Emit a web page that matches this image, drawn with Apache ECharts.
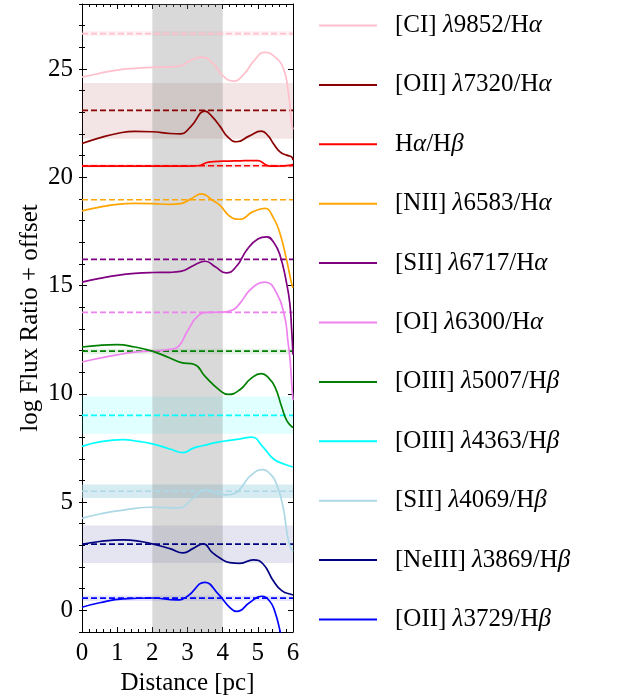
<!DOCTYPE html>
<html>
<head>
<meta charset="utf-8">
<script src="https://cdn.jsdelivr.net/npm/echarts@6/dist/echarts.min.js"></script>
<style>html,body{margin:0;padding:0;background:#fff;}#c{width:618px;height:698px;}</style>
</head>
<body>
<div id="c"></div>
<script>
// ---------- data ----------
const lineNames = [
  "[CI] λ9852/Hα", "[OII] λ7320/Hα", "Hα/Hβ", "[NII] λ6583/Hα", "[SII] λ6717/Hα",
  "[OI] λ6300/Hα", "[OIII] λ5007/Hβ", "[OIII] λ4363/Hβ", "[SII] λ4069/Hβ",
  "[NeIII] λ3869/Hβ", "[OII] λ3729/Hβ"
];
const ciCurve = [[0,24.62],[0.5,24.8],[1,24.95],[1.5,25.03],[2,25.07],[2.5,25.1],[2.8,25.15],[3.1,25.4],[3.4,25.55],[3.7,25.3],[4.0,24.7],[4.3,24.44],[4.6,24.75],[4.9,25.4],[5.2,25.77],[5.45,25.6],[5.72,25.05],[5.87,23.9],[5.96,22.5],[6,22.2]];
const oii7320Curve = [[0,21.56],[0.5,21.82],[1,22.02],[1.5,22.12],[2,22.1],[2.5,22.02],[2.8,22.0],[3.1,22.35],[3.5,23.05],[3.7,22.8],[3.92,22.36],[4.15,21.85],[4.4,21.64],[4.75,21.9],[5.1,22.13],[5.3,21.9],[5.44,21.56],[5.63,21.17],[5.82,21.02],[5.96,20.94],[6,20.79]];
const haHbCurve = [[0,20.51],[1,20.51],[2,20.51],[3,20.51],[3.3,20.53],[3.6,20.7],[4,20.74],[4.5,20.76],[5,20.77],[5.2,20.6],[5.35,20.51],[5.7,20.52],[5.95,20.56],[6,20.6]];
const nii6583Curve = [[0,18.45],[0.5,18.62],[1,18.75],[1.5,18.79],[2,18.78],[2.5,18.75],[2.8,18.78],[3.1,19.0],[3.4,19.23],[3.7,18.95],[3.92,18.71],[4.2,18.2],[4.49,18.06],[4.85,18.4],[5.2,18.56],[5.45,18.1],[5.63,17.4],[5.82,16.17],[5.96,15.09],[6,14.9]];
const sii6717Curve = [[0,15.16],[0.5,15.33],[1,15.47],[1.5,15.56],[2,15.6],[2.5,15.61],[2.8,15.65],[3.2,15.95],[3.5,16.12],[3.8,15.85],[4.1,15.58],[4.4,15.9],[4.68,16.63],[5.0,17.15],[5.25,17.25],[5.45,17.0],[5.63,16.4],[5.82,15.09],[5.91,14.17],[5.96,13.0],[6,11.8]];
const oi6300Curve = [[0,11.47],[0.5,11.65],[1,11.8],[1.5,11.92],[2,11.98],[2.5,12.05],[2.75,12.2],[3.0,12.9],[3.3,13.6],[3.6,13.76],[4,13.77],[4.3,13.88],[4.5,14.2],[4.75,14.75],[5.0,15.08],[5.2,15.16],[5.54,14.63],[5.77,13.5],[5.85,12.5],[5.92,11.5],[5.97,10.3],[6,9.7]];
const oiii5007Curve = [[0,12.16],[0.5,12.24],[1,12.27],[1.5,12.16],[2,11.97],[2.5,11.65],[2.8,11.45],[3.2,11.35],[3.5,10.8],[3.92,10.16],[4.16,9.97],[4.5,10.2],[4.8,10.7],[5.1,10.93],[5.3,10.75],[5.49,10.31],[5.68,9.39],[5.82,8.77],[5.96,8.49],[6,8.45]];
const oiii4363Curve = [[0,7.57],[0.5,7.78],[1.17,7.88],[1.6,7.8],[2,7.69],[2.5,7.45],[2.88,7.28],[3.15,7.48],[3.45,7.61],[3.87,7.77],[4.2,7.85],[4.5,7.92],[4.82,8.0],[5.15,7.54],[5.44,7.0],[5.72,6.77],[6,6.62]];
const sii4069Curve = [[0,4.25],[0.5,4.45],[1.17,4.63],[2,4.76],[2.78,4.73],[3.1,5.1],[3.54,5.58],[3.87,5.38],[4.1,5.33],[4.35,5.41],[4.5,5.61],[4.8,6.23],[5.15,6.5],[5.35,6.3],[5.53,5.84],[5.72,4.76],[5.82,3.68],[5.91,2.99],[6,2.72]];
const neiii3869Curve = [[0,3.05],[0.5,3.18],[1.17,3.25],[1.6,3.2],[2,3.07],[2.5,2.85],[2.88,2.65],[3.15,2.85],[3.45,3.07],[3.7,2.68],[3.92,2.42],[4.2,2.2],[4.49,2.17],[4.87,2.33],[5.15,2.14],[5.44,1.37],[5.68,0.91],[5.96,0.73],[6,0.72]];
const oii3729Curve = [[0,0.14],[0.5,0.35],[1.17,0.53],[2,0.57],[2.69,0.48],[3.0,0.65],[3.49,1.29],[3.87,0.76],[4.2,0.14],[4.4,-0.05],[4.78,0.37],[5.1,0.65],[5.34,0.42],[5.49,-0.09],[5.63,-0.94],[5.75,-1.8]];
const curves = [ciCurve, oii7320Curve, haHbCurve, nii6583Curve, sii6717Curve, oi6300Curve,
  oiii5007Curve, oiii4363Curve, sii4069Curve, neiii3869Curve, oii3729Curve];

// horizontal reference levels and their uncertainty bands (null = no band)
const refLevels = [26.63, 23.09, 20.53, 18.96, 16.21, 13.76, 11.97, 9.0, 5.5, 3.06, 0.56];
const bandLow  = [26.52, 21.78, 20.45, null, null, null, 11.83, 8.15, 5.19, 2.19, 0.43];
const bandHigh = [26.75, 24.35, 20.62, null, null, null, 12.08, 9.87, 5.81, 3.92, 0.69];

// shaded distance interval
const shadeRange = [2, 4];
const yMajorTicks = [0, 5, 10, 15, 20, 25];

// ---------- styles ----------
const colors = ['#ffc0cb', '#8b0000', '#ff0000', '#ffa500', '#800080', '#ee82ee',
  '#008000', '#00ffff', '#add8e6', '#000080', '#0000ff'];
const bandOpacity = [0.2, 0.1, 0.1, 0.1, 0.1, 0.1, 0.1, 0.12, 0.5, 0.1, 0.1];
const FONT = 'Liberation Serif';

function hexA(hex, a) {
  const r = parseInt(hex.slice(1,3),16), g = parseInt(hex.slice(3,5),16), b = parseInt(hex.slice(5,7),16);
  return 'rgba(' + r + ',' + g + ',' + b + ',' + a + ')';
}

const series = [];
lineNames.forEach((name, i) => {
  series.push({
    name: name, type: 'line', data: curves[i], xAxisIndex: 0, yAxisIndex: 0,
    smooth: 0.5, showSymbol: false, symbol: 'none',
    lineStyle: { color: colors[i], width: 1.7 }, itemStyle: { color: colors[i] },
    z: 5, clip: true, animation: false
  });
  const ref = {
    name: name + ' ref', type: 'line', data: [[0, refLevels[i]], [6, refLevels[i]]],
    xAxisIndex: 0, yAxisIndex: 0, showSymbol: false, symbol: 'none',
    lineStyle: { color: colors[i], width: 1.7, type: [6, 3] }, z: 4, animation: false
  };
  if (bandLow[i] !== null) {
    ref.markArea = { silent: true, itemStyle: { color: hexA(colors[i], bandOpacity[i]) },
      data: [[{ yAxis: bandLow[i] }, { yAxis: bandHigh[i] }]] };
  }
  series.push(ref);
});
series.push({
  name: 'shade', type: 'line', data: [], xAxisIndex: 0, yAxisIndex: 0, z: 1,
  markArea: { silent: true, itemStyle: { color: 'rgba(128,128,128,0.3)' },
    data: [[{ xAxis: shadeRange[0] }, { xAxis: shadeRange[1] }]] }
});

const axisLineStyle = { show: true, onZero: false, lineStyle: { color: '#000', width: 1 } };

const xBase = {
  type: 'value', min: 0, max: 6, interval: 1, gridIndex: 0,
  axisLine: axisLineStyle, splitLine: { show: false },
  axisTick: { show: true, inside: true, length: 5, lineStyle: { color: '#000' } },
  minorTick: { show: true, splitNumber: 5, length: 3, lineStyle: { color: '#000' } }
};

function legendRich(name) {
  const parts = name.split(/([λαβ])/).filter(s => s.length);
  return parts.map(p => (/[λαβ]/.test(p) ? '{m|' + p + '}' : '{r|' + p + '}')).join('');
}

const option = {
  animation: false,
  backgroundColor: '#fff',
  grid: { left: 82, right: 325, top: 4, bottom: 66, containLabel: false, outerBoundsMode: 'none' },
  xAxis: [
    Object.assign({}, xBase, {
      position: 'bottom', name: 'Distance [pc]', nameLocation: 'middle', nameGap: 39,
      nameTextStyle: { fontFamily: FONT, fontSize: 25, color: '#000' },
      axisLabel: { show: true, margin: 9, fontFamily: FONT, fontSize: 25, color: '#000' }
    }),
    Object.assign({}, xBase, { position: 'top', axisLabel: { show: false } })
  ],
  yAxis: [
    {
      type: 'value', min: -1, max: 28, position: 'left', gridIndex: 0,
      axisLine: axisLineStyle, splitLine: { show: false },
      axisTick: { show: true, inside: true, length: 5, customValues: yMajorTicks, lineStyle: { color: '#000' } },
      axisLabel: { show: true, customValues: yMajorTicks, margin: 9, fontFamily: FONT, fontSize: 25, color: '#000' },
      name: 'log Flux Ratio + offset', nameLocation: 'middle', nameGap: 39, nameRotate: 90,
      nameTextStyle: { fontFamily: FONT, fontSize: 25, color: '#000' }
    },
    {
      type: 'value', min: -1, max: 28, interval: 1, position: 'left', gridIndex: 0,
      axisLine: { show: false }, splitLine: { show: false }, axisLabel: { show: false },
      axisTick: { show: true, inside: true, length: 3, lineStyle: { color: '#000' } }
    },
    {
      type: 'value', min: -1, max: 28, position: 'right', gridIndex: 0,
      axisLine: axisLineStyle, splitLine: { show: false }, axisLabel: { show: false },
      axisTick: { show: true, inside: true, length: 5, customValues: yMajorTicks, lineStyle: { color: '#000' } }
    },
    {
      type: 'value', min: -1, max: 28, interval: 1, position: 'right', gridIndex: 0,
      axisLine: { show: false }, splitLine: { show: false }, axisLabel: { show: false },
      axisTick: { show: true, inside: true, length: 3, lineStyle: { color: '#000' } }
    }
  ],
  legend: {
    show: true, orient: 'vertical', left: 314, top: 8, data: lineNames,
    icon: 'rect', itemWidth: 58, itemHeight: 2, itemGap: 34.4,
    selectedMode: false,
    formatter: legendRich,
    textStyle: {
      padding: [0, 0, 0, 13], lineHeight: 24,
      rich: {
        r: { fontFamily: FONT, fontSize: 25, color: '#000', lineHeight: 24 },
        m: { fontFamily: FONT, fontSize: 25, fontStyle: 'italic', color: '#000', lineHeight: 24 }
      }
    }
  },
  series: series
};

const chart = echarts.init(document.getElementById('c'), null, { renderer: 'canvas' });
chart.setOption(option);
</script>
</body>
</html>
